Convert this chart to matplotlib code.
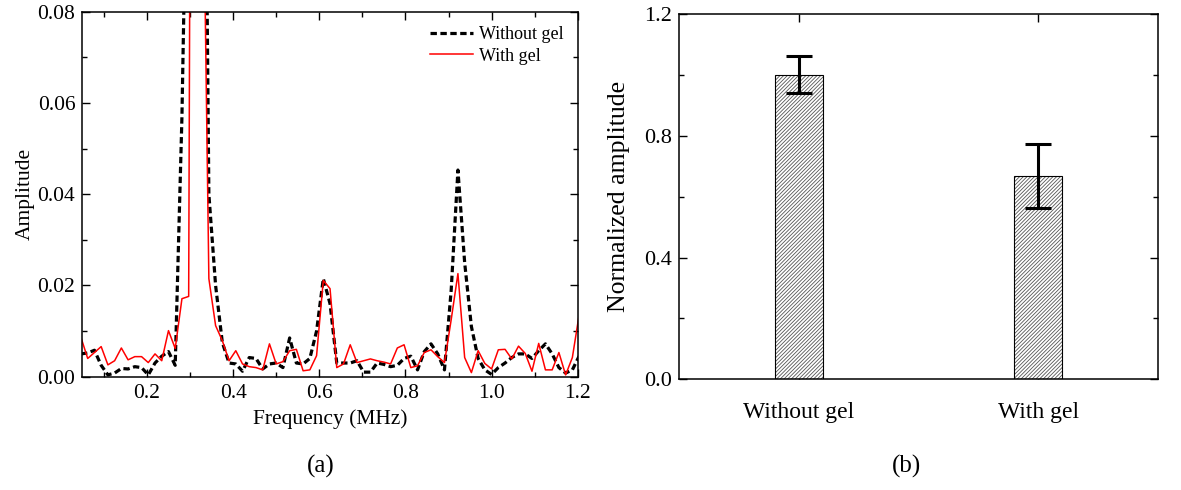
import numpy as np
import matplotlib
matplotlib.use('Agg')
import matplotlib.pyplot as plt
from matplotlib.ticker import MultipleLocator

plt.rcParams['font.family'] = ['Liberation Serif', 'DejaVu Serif']
plt.rcParams['hatch.linewidth'] = 0.6

# ---- (a) spectra, sampled on a 1/64 MHz grid ----
freq = np.arange(3, 78) / 64.0   # MHz

without_gel = [
    0.0050, 0.0052, 0.0058, 0.0025, 0.0004, 0.0008, 0.0018, 0.0017, 0.0022, 0.0020,
    0.0004, 0.0030, 0.0045, 0.0055, 0.0025, 0.0570, 0.1400, 0.5000, 0.2000, 0.0400,
    0.0200, 0.0075, 0.0030, 0.0028, 0.0012, 0.0042, 0.0040, 0.0017, 0.0028, 0.0030,
    0.0020, 0.0085, 0.0030, 0.0028, 0.0040, 0.0100, 0.0215, 0.0160, 0.0030, 0.0030,
    0.0030, 0.0035, 0.0010, 0.0010, 0.0030, 0.0027, 0.0022, 0.0025, 0.0040, 0.0045,
    0.0015, 0.0055, 0.0072, 0.0050, 0.0015, 0.0190, 0.0453, 0.0250, 0.0110, 0.0040,
    0.0015, 0.0005, 0.0020, 0.0030, 0.0042, 0.0050, 0.0050, 0.0040, 0.0057, 0.0072,
    0.0050, 0.0020, 0.0008, 0.0015, 0.0045]

with_gel = [
    0.0086, 0.0040, 0.0053, 0.0066, 0.0026, 0.0035, 0.0063, 0.0037, 0.0044, 0.0044,
    0.0031, 0.0050, 0.0035, 0.0101, 0.0062, 0.0171, 0.0176, 0.4500, 0.1300, 0.0215,
    0.0112, 0.0079, 0.0035, 0.0057, 0.0028, 0.0022, 0.0020, 0.0015, 0.0072, 0.0028,
    0.0033, 0.0057, 0.0060, 0.0013, 0.0015, 0.0046, 0.0211, 0.0193, 0.0020, 0.0028,
    0.0070, 0.0031, 0.0035, 0.0039, 0.0035, 0.0032, 0.0028, 0.0063, 0.0070, 0.0020,
    0.0024, 0.0053, 0.0059, 0.0044, 0.0031, 0.0125, 0.0226, 0.0042, 0.0009, 0.0057,
    0.0029, 0.0017, 0.0059, 0.0060, 0.0039, 0.0067, 0.0051, 0.0012, 0.0073, 0.0015,
    0.0015, 0.0053, 0.0004, 0.0042, 0.0135]

# ---- (b) normalized amplitude ----
groups = ['Without gel', 'With gel']
norm_amp = [1.0, 0.669]
norm_err = [0.061, 0.105]

fig = plt.figure(figsize=(11.81, 4.90), dpi=100)
ax1 = fig.add_axes([0.0697, 0.2312, 0.4195, 0.7449])
ax2 = fig.add_axes([0.5750, 0.2259, 0.4054, 0.7455])

# ---------------- panel a ----------------
ax1.plot(freq, without_gel, color='black', lw=2.3, linestyle=(0, (2.0, 1.1)),
         label='Without gel')
ax1.plot(freq, with_gel, color='red', lw=1.1, label='With gel')
ax1.set_xlim(0.05, 1.2)
ax1.set_ylim(0, 0.08)
ax1.xaxis.set_major_locator(MultipleLocator(0.2))
ax1.xaxis.set_minor_locator(MultipleLocator(0.1))
ax1.yaxis.set_major_locator(MultipleLocator(0.02))
ax1.yaxis.set_minor_locator(MultipleLocator(0.01))
ax1.xaxis.set_major_formatter(plt.FuncFormatter(lambda v, p: f'{v:.1f}'))
ax1.yaxis.set_major_formatter(plt.FuncFormatter(lambda v, p: f'{v:.2f}'))
ax1.set_xlabel('Frequency (MHz)', fontsize=15.5, labelpad=5)
ax1.set_ylabel('Amplitude', fontsize=15.5, labelpad=2)
ax1.legend(loc='upper right', frameon=False, fontsize=13, handlelength=2.4,
           handletextpad=0.3, labelspacing=0.25, borderaxespad=0.4)

# ---------------- panel b ----------------
xpos = np.arange(1, len(groups) + 1)
ax2.bar(xpos, norm_amp, width=0.2, color='white', edgecolor='#555555',
        hatch='/////////', lw=0, zorder=2)
ax2.bar(xpos, norm_amp, width=0.2, color='none', edgecolor='black', lw=0.8, zorder=3)
ax2.errorbar(xpos, norm_amp, yerr=norm_err, fmt='none', ecolor='black',
             elinewidth=2.2, capsize=9.5, capthick=2.2, zorder=4)
ax2.set_xlim(0.5, 2.5)
ax2.set_ylim(0, 1.2)
ax2.set_xticks(xpos)
ax2.set_xticklabels(groups, fontsize=17)
ax2.yaxis.set_major_locator(MultipleLocator(0.4))
ax2.yaxis.set_minor_locator(MultipleLocator(0.2))
ax2.yaxis.set_major_formatter(plt.FuncFormatter(lambda v, p: f'{v:.1f}'))
ax2.set_ylabel('Normalized amplitude', fontsize=18.5, labelpad=10)

for ax in (ax1, ax2):
    for s in ax.spines.values():
        s.set_linewidth(1.1)
    ax.tick_params(which='both', direction='in', top=True, right=True, width=1.0)
    ax.tick_params(which='major', length=6)
    ax.tick_params(which='minor', length=3.5)
ax1.tick_params(which='major', labelsize=15.5, pad=5)
ax2.tick_params(axis='y', which='major', labelsize=16, pad=5)
ax2.tick_params(axis='x', which='major', pad=16)

fig.text(0.2718, 0.049, '(a)', ha='center', va='center', fontsize=18)
fig.text(0.7672, 0.049, '(b)', ha='center', va='center', fontsize=18)

fig.savefig('out.png', dpi=100)
